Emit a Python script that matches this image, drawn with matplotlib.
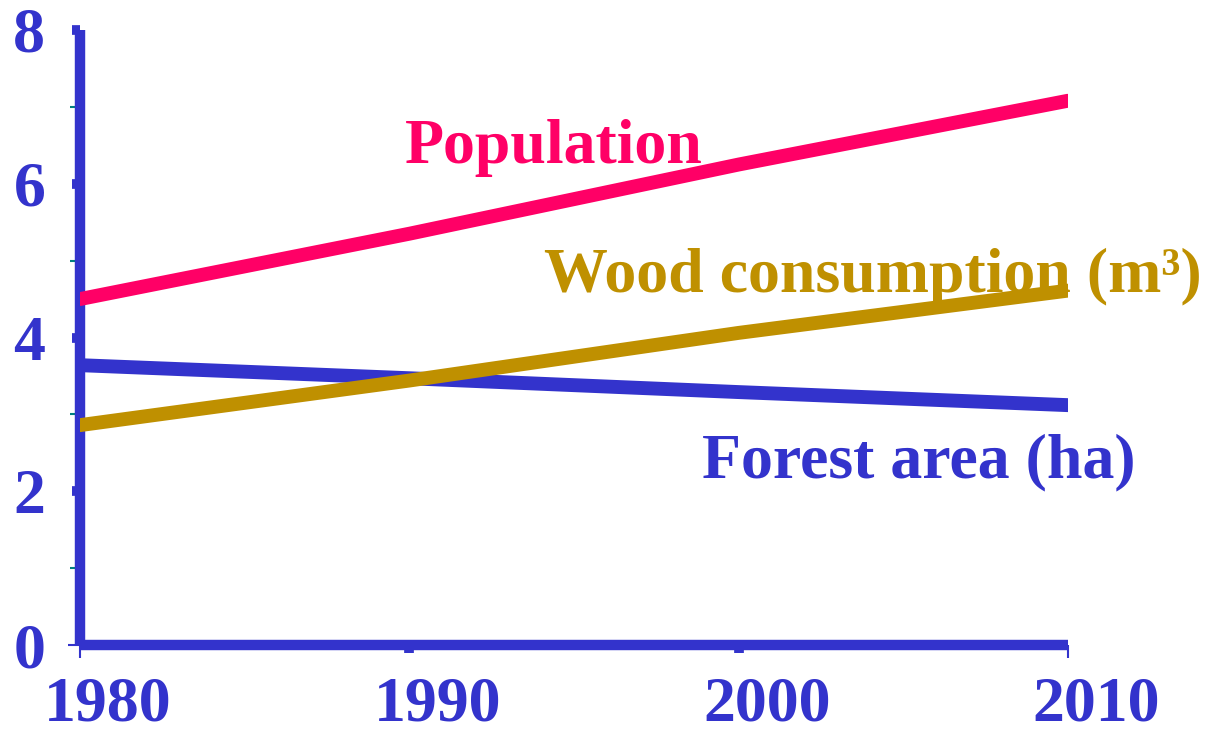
import matplotlib
matplotlib.use("Agg")
import matplotlib.pyplot as plt
from matplotlib.ticker import MultipleLocator
import matplotlib.transforms as mtransforms

# data
years = [1980, 1990, 2000, 2010]
population = [4.5, 5.35, 6.25, 7.08]
wood = [2.86, 3.44, 4.06, 4.61]
forest = [3.64, 3.47, 3.29, 3.12]

blue = '#3333CC'
pink = '#FF0066'
gold = '#BF9000'
teal = '#008080'

plt.rcParams['font.family'] = ['Liberation Serif', 'DejaVu Serif']
plt.rcParams['font.weight'] = 'bold'

fig = plt.figure(figsize=(12.11, 7.33), dpi=100)
ax = fig.add_axes([80/1211, 88/733, (1068-80)/1211, (645-30)/733])

ax.plot(years, forest, color=blue, lw=10, solid_capstyle='round', zorder=3)
ax.plot(years, population, color=pink, lw=10, solid_capstyle='round', zorder=3)
ax.plot(years, wood, color=gold, lw=10, solid_capstyle='round', zorder=4)

ax.set_xlim(1980, 2010)
ax.set_ylim(0, 8)
ax.set_xticks(years)
ax.set_yticks([0, 2, 4, 6, 8])
ax.yaxis.set_minor_locator(MultipleLocator(1))

for s in ['top', 'right']:
    ax.spines[s].set_visible(False)
for s in ['left', 'bottom']:
    ax.spines[s].set_color(blue)
    ax.spines[s].set_linewidth(7.5)
    ax.spines[s].set_capstyle('butt')

ax.tick_params(axis='both', which='major', direction='out', length=6, width=7,
               color=blue, labelcolor=blue, labelsize=46)
ax.tick_params(axis='y', which='minor', direction='out', length=7, width=1.5, color=teal)
ax.tick_params(axis='y', which='major', pad=19)
ax.tick_params(axis='x', which='major', pad=17)

# end ticks drawn thin and teal
for t in [ax.xaxis.get_major_ticks()[0], ax.xaxis.get_major_ticks()[-1],
          ax.yaxis.get_major_ticks()[0]]:
    t.tick1line.set_color(teal)
    t.tick1line.set_markeredgewidth(1.5)
    t.tick1line.set_markersize(9)

# x labels sit a little to the right of their ticks
shift = mtransforms.ScaledTranslation(28/100, 0, fig.dpi_scale_trans)
for lab in ax.get_xticklabels():
    lab.set_transform(lab.get_transform() + shift)

ax.text(1989.87, 6.47, 'Population', color=pink, fontsize=46, fontweight='bold', va='center')
ax.text(1994.1, 4.79, 'Wood consumption (m³)', color=gold, fontsize=46,
        fontweight='bold', va='center')
ax.text(1998.9, 2.37, 'Forest area (ha)', color=blue, fontsize=46, fontweight='bold', va='center')

for t in ax.texts:
    t.set_clip_on(False)

fig.savefig('out.png', dpi=100)
